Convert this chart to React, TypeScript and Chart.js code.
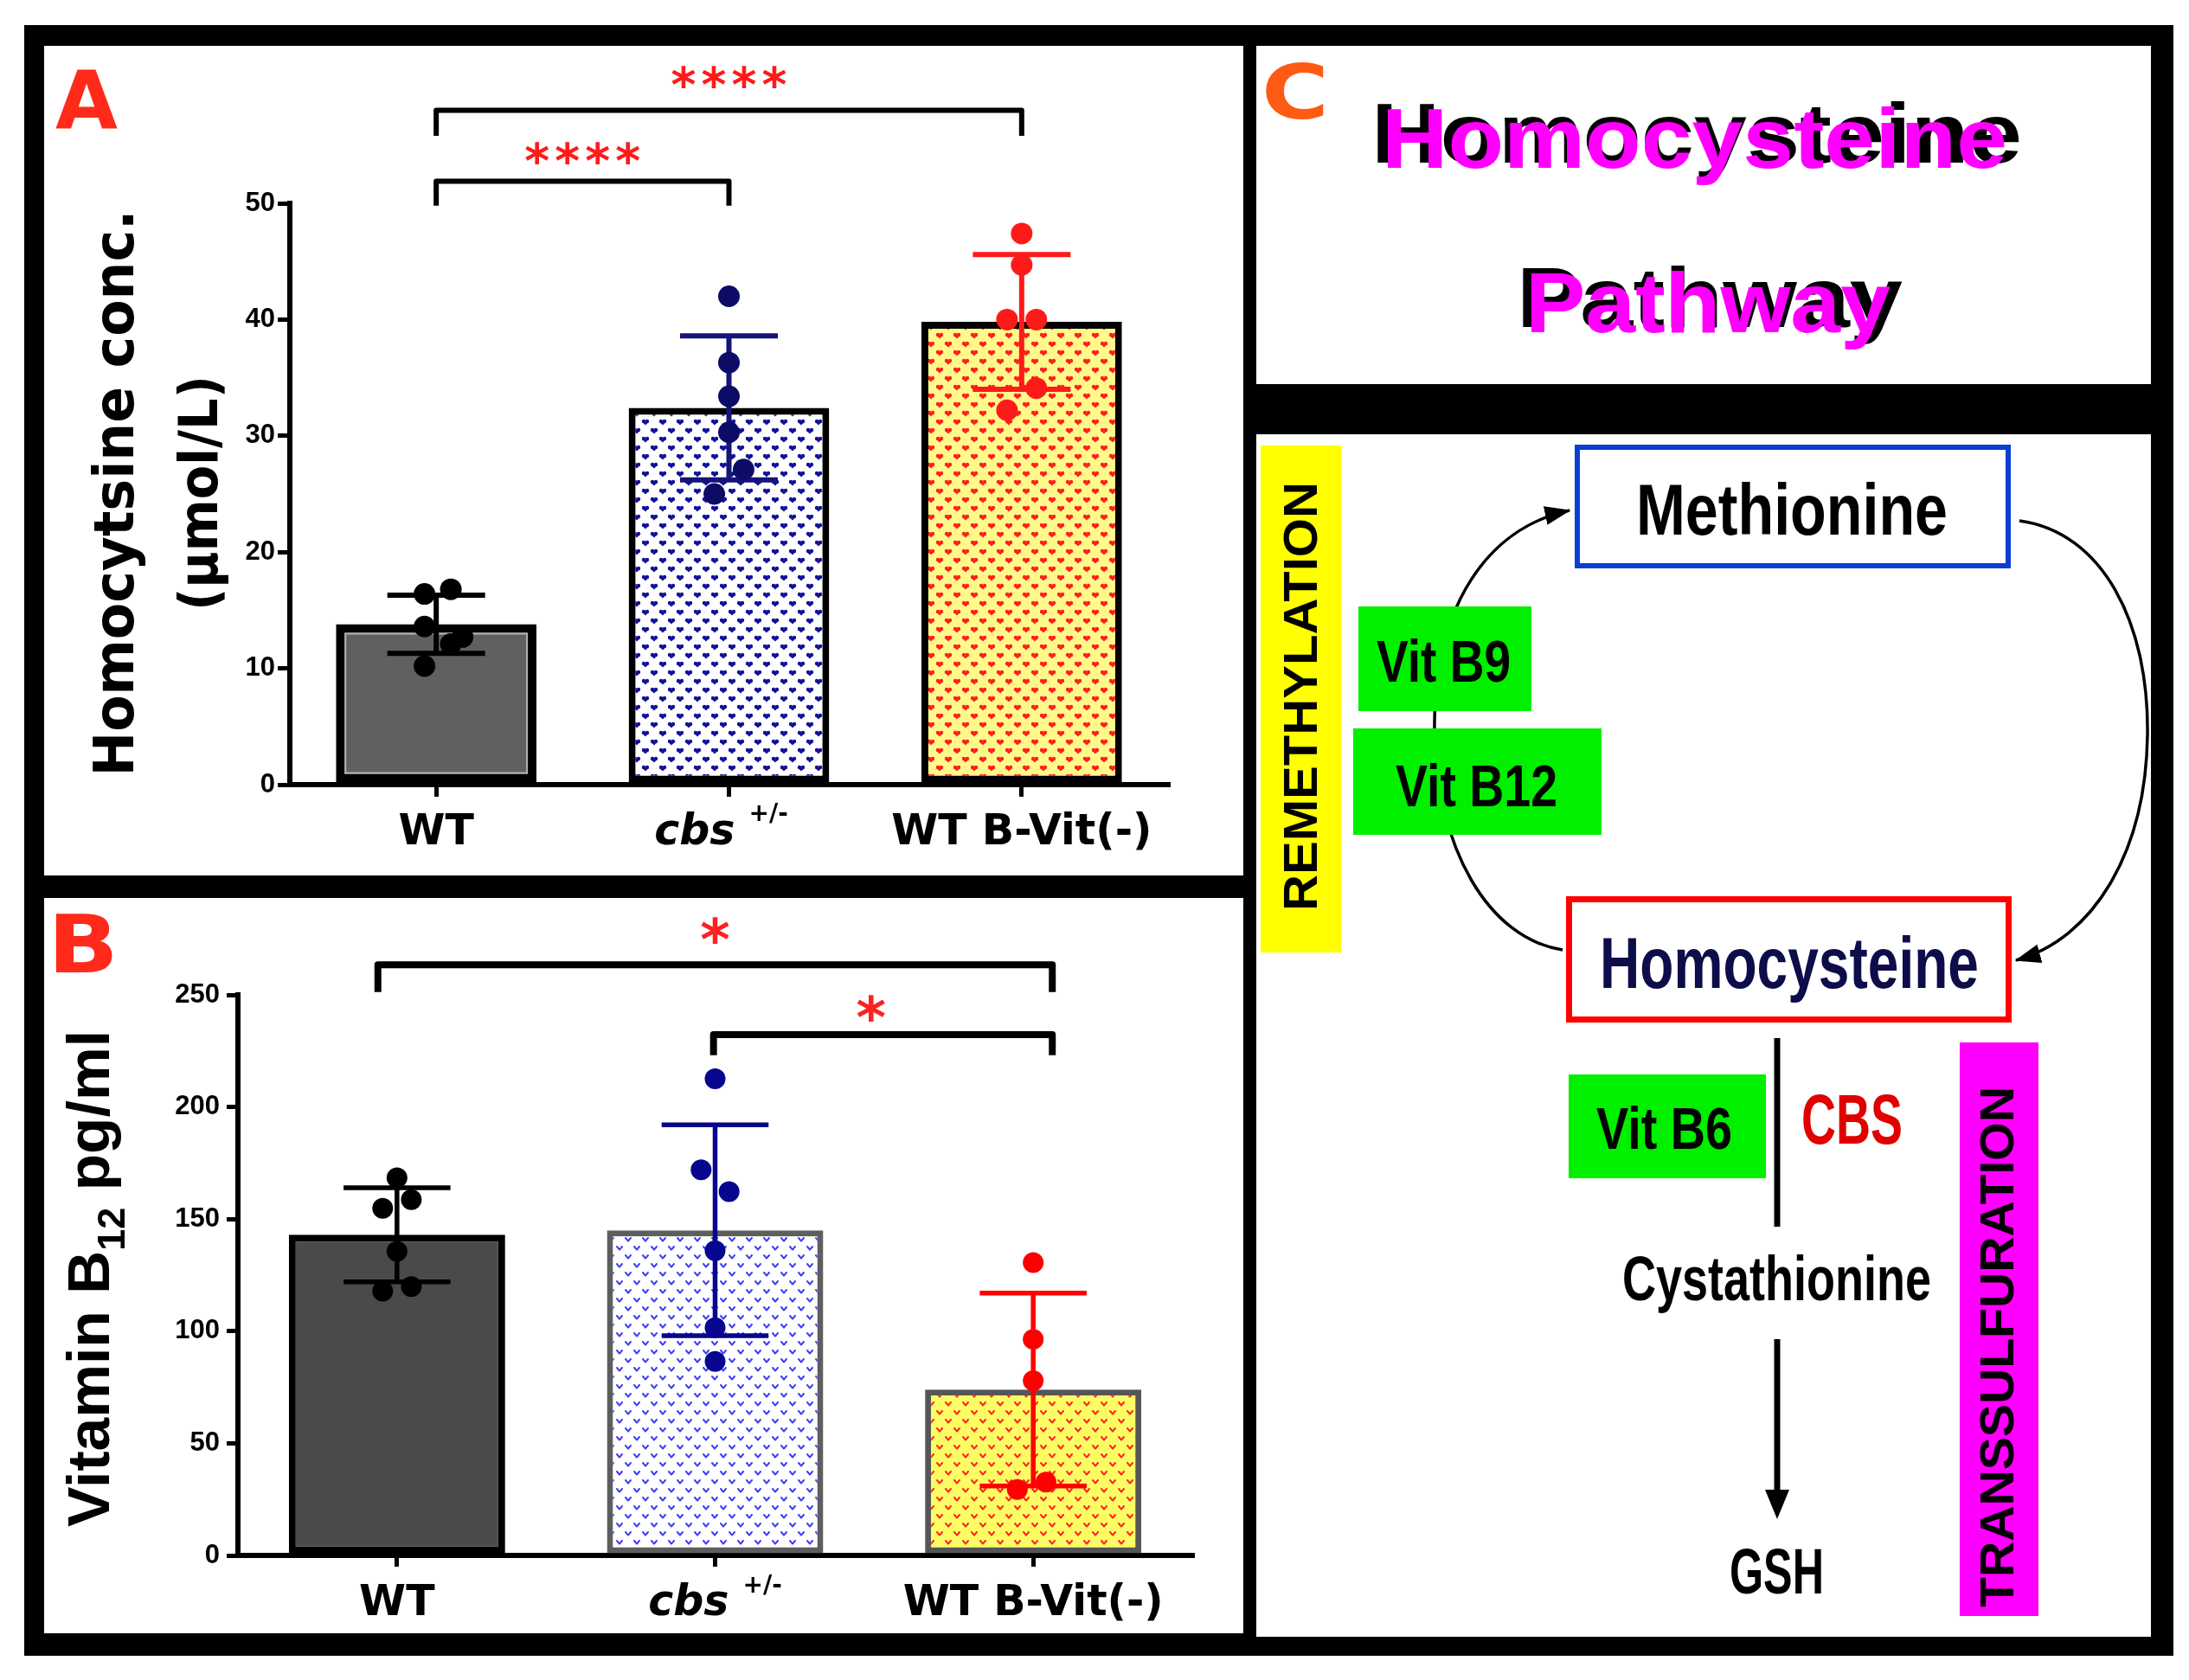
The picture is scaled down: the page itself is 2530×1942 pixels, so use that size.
import React, { useEffect, useRef } from 'react';
import { Chart, registerables } from 'chart.js';

Chart.register(...registerables);

// ---------------- shared categories ----------------
const categories = ['WT', 'cbs', 'WT B-Vit(-)'];
const categorySuperscripts = ['', '+/-', ''];
const categoryItalic = [false, true, false];

// ---------------- Panel A: homocysteine (µmol/L) ----------------
const hcyMean = [13.8, 32.4, 39.8];
const hcySD = [2.5, 6.2, 5.8];
const hcyPointsWT = [16.4, 16.8, 13.6, 12.7, 12.1, 10.2];
const hcyPointsCbs = [42.0, 36.3, 33.4, 30.3, 27.1, 25.0];
const hcyPointsBVit = [47.4, 44.7, 40.0, 40.0, 34.1, 32.2];
const hcyJitterWT = [-0.04, 0.05, -0.04, 0.09, 0.05, -0.04];
const hcyJitterCbs = [0, 0, 0, 0, 0.05, -0.05];
const hcyJitterBVit = [0, 0, -0.05, 0.05, 0.05, -0.05];
const hcyYMax = 50;
const hcyYStep = 10;
const hcySigFrom = [0, 0];
const hcySigTo = [2, 1];
const hcySigY = [58.0, 51.9];
const hcySigLeg = [55.8, 49.8];
const hcySigText = ['****', '****'];
const hcySigTextX = [1.0, 0.5];
const hcySigTextY = [60.9, 54.3];

// ---------------- Panel B: vitamin B12 (pg/ml) ----------------
const b12Mean = [143, 145, 74];
const b12SD = [21, 47, 43];
const b12PointsWT = [168.4, 158.7, 154.8, 135.6, 119.9, 117.9];
const b12PointsCbs = [212.6, 172.0, 162.2, 135.9, 101.6, 86.5];
const b12PointsBVit = [130.6, 96.4, 77.9, 32.7, 29.4];
const b12JitterWT = [0, 0.045, -0.045, 0, 0.045, -0.045];
const b12JitterCbs = [0, -0.044, 0.044, 0, 0, 0];
const b12JitterBVit = [0, 0, 0, 0.04, -0.05];
const b12YMax = 250;
const b12YStep = 50;
const b12SigFrom = [-0.06, 0.995];
const b12SigTo = [2.06, 2.06];
const b12SigY = [263.4, 232.3];
const b12SigLeg = [251.3, 223.1];
const b12SigText = ['*', '*'];
const b12SigTextX = [1.0, 1.49];
const b12SigTextY = [278.6, 244.2];

// ---------------- helpers ----------------
function heartPattern(bg: string, fg: string) {
  const c = document.createElement('canvas');
  c.width = 20;
  c.height = 20;
  const g = c.getContext('2d')!;
  g.fillStyle = bg;
  g.fillRect(0, 0, 20, 20);
  g.fillStyle = fg;
  const heart = (cx: number, cy: number) => {
    g.beginPath();
    g.arc(cx - 2, cy - 1, 2.2, 0, Math.PI * 2);
    g.fill();
    g.beginPath();
    g.arc(cx + 2, cy - 1, 2.2, 0, Math.PI * 2);
    g.fill();
    g.beginPath();
    g.moveTo(cx - 4.1, cy - 0.4);
    g.lineTo(cx + 4.1, cy - 0.4);
    g.lineTo(cx, cy + 3.6);
    g.closePath();
    g.fill();
  };
  heart(5, 5);
  heart(15, 15);
  return g.createPattern(c, 'repeat');
}

function chevronPattern(bg: string, fg: string) {
  const c = document.createElement('canvas');
  c.width = 20;
  c.height = 20;
  const g = c.getContext('2d')!;
  g.fillStyle = bg;
  g.fillRect(0, 0, 20, 20);
  g.strokeStyle = fg;
  g.lineWidth = 2;
  g.lineCap = 'round';
  g.lineJoin = 'round';
  const v = (cx: number, cy: number) => {
    g.beginPath();
    g.moveTo(cx - 3, cy - 2);
    g.lineTo(cx, cy + 1.6);
    g.lineTo(cx + 3, cy - 2);
    g.stroke();
  };
  v(5, 5);
  v(15, 15);
  return g.createPattern(c, 'repeat');
}

function drawRotatedRuns(ctx: CanvasRenderingContext2D, runs: any[], baselineX: number, centerY: number, length: number) {
  ctx.save();
  const widths = runs.map((r) => {
    ctx.font = r.font;
    return ctx.measureText(r.text).width;
  });
  const total = widths.reduce((a, b) => a + b, 0);
  ctx.translate(baselineX, centerY);
  ctx.rotate(-Math.PI / 2);
  ctx.scale(length / total, 1);
  ctx.fillStyle = '#000';
  ctx.textAlign = 'left';
  ctx.textBaseline = 'alphabetic';
  let x = -total / 2;
  runs.forEach((r, i) => {
    ctx.font = r.font;
    ctx.fillText(r.text, x, r.dy || 0);
    x += widths[i];
  });
  ctx.restore();
}

function extrasPlugin(spec: any) {
  return {
    id: 'panelExtras',
    afterDatasetDraw(chart: any, args: any) {
      if (args.meta.type !== 'bar') return;
      const ctx = chart.ctx as CanvasRenderingContext2D;
      const x = chart.scales.x;
      const y = chart.scales.y;
      const catW = x.getPixelForValue(1) - x.getPixelForValue(0);
      if (spec.innerLine) {
        const el = args.meta.data[0];
        const bw = spec.barBorderWidth[0];
        const l = el.x - el.width / 2 + bw;
        const r = el.x + el.width / 2 - bw;
        const t = el.y + bw;
        const b = el.base - bw;
        ctx.save();
        ctx.strokeStyle = spec.innerLine;
        ctx.lineWidth = 2;
        ctx.strokeRect(l + 1, t + 1, r - l - 2, b - t - 2);
        ctx.restore();
      }
      spec.means.forEach((m: number, i: number) => {
        const px = x.getPixelForValue(i);
        const top = y.getPixelForValue(m + spec.sds[i]);
        const bot = y.getPixelForValue(m - spec.sds[i]);
        const hw = catW * spec.capFrac;
        ctx.save();
        ctx.strokeStyle = spec.errColors[i];
        ctx.lineWidth = spec.errWidth;
        ctx.lineCap = 'butt';
        ctx.beginPath();
        ctx.moveTo(px, top);
        ctx.lineTo(px, bot);
        ctx.moveTo(px - hw, top);
        ctx.lineTo(px + hw, top);
        ctx.moveTo(px - hw, bot);
        ctx.lineTo(px + hw, bot);
        ctx.stroke();
        ctx.restore();
      });
    },
    afterDraw(chart: any) {
      const ctx = chart.ctx as CanvasRenderingContext2D;
      const x = chart.scales.x;
      const y = chart.scales.y;
      // significance brackets
      spec.sigFrom.forEach((from: number, i: number) => {
        const xl = x.getPixelForValue(from);
        const xr = x.getPixelForValue(spec.sigTo[i]);
        const yl = y.getPixelForValue(spec.sigY[i]);
        const yg = y.getPixelForValue(spec.sigLeg[i]);
        ctx.save();
        ctx.strokeStyle = '#000';
        ctx.lineWidth = spec.bracketWidth;
        ctx.lineJoin = 'round';
        ctx.beginPath();
        ctx.moveTo(xl, yg);
        ctx.lineTo(xl, yl);
        ctx.lineTo(xr, yl);
        ctx.lineTo(xr, yg);
        ctx.stroke();
        ctx.restore();
        // stars
        ctx.save();
        ctx.font = 'bold 100px "DejaVu Sans"';
        const m100 = ctx.measureText('*');
        const h100 = m100.actualBoundingBoxAscent + m100.actualBoundingBoxDescent;
        const size = (spec.starHeight / h100) * 100;
        ctx.font = `bold ${size}px "DejaVu Sans"`;
        const mm = ctx.measureText('*');
        const cy = y.getPixelForValue(spec.sigTextY[i]);
        const baseY = cy + (mm.actualBoundingBoxAscent - mm.actualBoundingBoxDescent) / 2;
        const cx = x.getPixelForValue(spec.sigTextX[i]);
        const txt: string = spec.sigText[i];
        const n = txt.length;
        ctx.fillStyle = spec.starColor;
        ctx.textAlign = 'center';
        ctx.textBaseline = 'alphabetic';
        for (let k = 0; k < n; k++) {
          ctx.fillText('*', cx + (k - (n - 1) / 2) * spec.starPitch, baseY);
        }
        ctx.restore();
      });
      // category labels
      const base = chart.chartArea.bottom + spec.labelOffset;
      categories.forEach((c, i) => {
        const cx = x.getPixelForValue(i);
        ctx.save();
        const mainFont = (categoryItalic[i] ? 'italic ' : '') + `bold ${spec.labelSize}px "DejaVu Sans"`;
        ctx.font = mainFont;
        const w1 = ctx.measureText(c).width;
        const sup = categorySuperscripts[i];
        let w2 = 0;
        let gap = 0;
        const supFont = `bold ${spec.supSize}px "DejaVu Sans"`;
        if (sup) {
          ctx.font = supFont;
          w2 = ctx.measureText(sup).width;
          gap = spec.supGap;
        }
        const start = cx - (w1 + gap + w2) / 2 + (sup ? spec.supShift : 0);
        ctx.fillStyle = '#000';
        ctx.textAlign = 'left';
        ctx.textBaseline = 'alphabetic';
        ctx.font = mainFont;
        ctx.fillText(c, start, base);
        if (sup) {
          ctx.font = supFont;
          ctx.fillText(sup, start + w1 + gap, base - spec.supRise);
        }
        ctx.restore();
      });
      // y titles
      spec.titles.forEach((t: any) => drawRotatedRuns(ctx, t.runs, t.baselineX, t.centerY, t.length));
    },
  };
}

function buildChart(canvas: HTMLCanvasElement, spec: any) {
  const datasets: any[] = [
    {
      type: 'bar',
      data: spec.means.map((m: number, i: number) => ({ x: i, y: m })),
      backgroundColor: spec.barFill,
      borderColor: spec.barBorder,
      borderWidth: spec.barBorderWidth,
      borderSkipped: false,
      barPercentage: spec.barPct,
      categoryPercentage: 1,
      grouped: false,
      order: 2,
    },
  ];
  spec.points.forEach((vals: number[], i: number) => {
    datasets.push({
      type: 'scatter',
      data: vals.map((v, k) => ({ x: i + spec.jitter[i][k], y: v })),
      pointRadius: spec.pointRadius,
      pointHoverRadius: spec.pointRadius,
      pointBackgroundColor: spec.pointColors[i],
      pointBorderColor: spec.pointColors[i],
      pointBorderWidth: 0,
      showLine: false,
      order: 1,
    });
  });
  const tickFont = { family: 'Liberation Sans', size: spec.tickSize, weight: 'bold' };
  const gridCommon = {
    display: true,
    drawOnChartArea: false,
    drawTicks: true,
    tickLength: spec.tickLength,
    tickWidth: spec.tickWidth,
    tickColor: '#000',
    color: '#000',
    lineWidth: spec.tickWidth,
    offset: false,
  };
  const border = { display: true, color: '#000', width: spec.axisWidth };
  return new Chart(canvas, {
    type: 'bar',
    data: { datasets },
    options: {
      responsive: false,
      animation: false,
      devicePixelRatio: 1,
      events: [],
      layout: { padding: { left: 0, top: spec.padTop, right: spec.padRight, bottom: 0 } },
      plugins: { legend: { display: false }, tooltip: { enabled: false } },
      scales: {
        x: {
          type: 'linear',
          min: -0.5,
          max: 2.5,
          offset: false,
          grid: gridCommon,
          border,
          ticks: { display: false },
          afterBuildTicks: (s: any) => {
            s.ticks = categories.map((_, i) => ({ value: i }));
          },
          afterFit: (s: any) => {
            s.height = spec.xAxisHeight;
          },
        },
        y: {
          type: 'linear',
          min: 0,
          max: spec.yMax,
          ticks: { stepSize: spec.yStep, color: '#000', font: tickFont, padding: spec.tickPadding },
          grid: gridCommon,
          border,
          afterFit: (s: any) => {
            s.width = spec.yAxisWidth;
          },
        },
      },
    } as any,
    plugins: [extrasPlugin(spec)],
  } as any);
}

const C_FONT = "'Liberation Sans', Arial, sans-serif";

export default function App() {
  const aRef = useRef<HTMLCanvasElement | null>(null);
  const bRef = useRef<HTMLCanvasElement | null>(null);

  useEffect(() => {
    document.body.style.margin = '0';
    const specA = {
      means: hcyMean,
      sds: hcySD,
      points: [hcyPointsWT, hcyPointsCbs, hcyPointsBVit],
      jitter: [hcyJitterWT, hcyJitterCbs, hcyJitterBVit],
      yMax: hcyYMax,
      yStep: hcyYStep,
      sigFrom: hcySigFrom,
      sigTo: hcySigTo,
      sigY: hcySigY,
      sigLeg: hcySigLeg,
      sigText: hcySigText,
      sigTextX: hcySigTextX,
      sigTextY: hcySigTextY,
      barFill: ['#606060', heartPattern('#ffffff', '#10109a'), heartPattern('#fff98c', '#ff1e1e')],
      barBorder: ['#000000', '#000000', '#000000'],
      barBorderWidth: [10, 8, 8],
      barPct: 0.685,
      innerLine: '#b0b0b0',
      pointColors: ['#000000', '#0c0c66', '#ff1a1a'],
      errColors: ['#000000', '#14147a', '#ff1a1a'],
      pointRadius: 12.5,
      errWidth: 6,
      capFrac: 0.167,
      bracketWidth: 6,
      starHeight: 26,
      starPitch: 35,
      starColor: '#ff1a1a',
      labelOffset: 69,
      labelSize: 49,
      supSize: 28,
      supRise: 27,
      supGap: 16,
      supShift: -9,
      tickSize: 31,
      tickLength: 14,
      tickWidth: 5,
      tickPadding: 3,
      axisWidth: 6,
      padTop: 182,
      padRight: 87,
      yAxisWidth: 284,
      xAxisHeight: 105,
      titles: [
        { runs: [{ text: 'Homocytsine conc.', font: 'bold 64px "DejaVu Sans"' }], baselineX: 103, centerY: 517, length: 655 },
        { runs: [{ text: '(μmol/L)', font: 'bold 62px "DejaVu Sans"' }], baselineX: 200, centerY: 517, length: 272 },
      ],
    };
    const specB = {
      means: b12Mean,
      sds: b12SD,
      points: [b12PointsWT, b12PointsCbs, b12PointsBVit],
      jitter: [b12JitterWT, b12JitterCbs, b12JitterBVit],
      yMax: b12YMax,
      yStep: b12YStep,
      sigFrom: b12SigFrom,
      sigTo: b12SigTo,
      sigY: b12SigY,
      sigLeg: b12SigLeg,
      sigText: b12SigText,
      sigTextX: b12SigTextX,
      sigTextY: b12SigTextY,
      barFill: ['#4a4a4a', chevronPattern('#ffffff', '#3c3cf5'), chevronPattern('#fcfc64', '#ff2020')],
      barBorder: ['#000000', '#5e5e5e', '#555555'],
      barBorderWidth: [8, 7, 7],
      barPct: 0.68,
      innerLine: null,
      pointColors: ['#000000', '#06068f', '#ff0000'],
      errColors: ['#000000', '#06068f', '#ff0000'],
      pointRadius: 12,
      errWidth: 5.5,
      capFrac: 0.168,
      bracketWidth: 8,
      starHeight: 31,
      starPitch: 35,
      starColor: '#ff2020',
      labelOffset: 69,
      labelSize: 49,
      supSize: 28,
      supRise: 26,
      supGap: 16,
      supShift: 0,
      tickSize: 31,
      tickLength: 13,
      tickWidth: 5,
      tickPadding: 8,
      axisWidth: 6,
      padTop: 112,
      padRight: 59,
      yAxisWidth: 224,
      xAxisHeight: 90,
      titles: [
        {
          runs: [
            { text: 'Vitamin B', font: 'bold 68px "Liberation Sans"' },
            { text: '12', font: 'bold 44px "Liberation Sans"', dy: 18 },
            { text: ' pg/ml', font: 'bold 68px "Liberation Sans"' },
          ],
          baselineX: 75,
          centerY: 440,
          length: 574,
        },
      ],
    };
    const ca = buildChart(aRef.current!, specA);
    const cb = buildChart(bRef.current!, specB);
    return () => {
      ca.destroy();
      cb.destroy();
    };
  }, []);

  const T = (props: any) => (
    <text fontFamily={C_FONT} fontWeight="bold" lengthAdjust="spacingAndGlyphs" {...props} />
  );

  return (
    <div style={{ position: 'absolute', left: 0, top: 0, width: 2530, height: 1942, background: '#fff', overflow: 'hidden' }}>
      <svg width={2530} height={1942} style={{ position: 'absolute', left: 0, top: 0 }}>
        <defs>
          <marker id="ah" viewBox="0 0 10 10" refX="9.5" refY="5" markerUnits="userSpaceOnUse" markerWidth="30" markerHeight="22" orient="auto" preserveAspectRatio="none">
            <path d="M0,0 L10,5 L0,10 z" fill="#000" />
          </marker>
        </defs>
        {/* frame & panels */}
        <rect x={28} y={29} width={2484} height={1885} fill="#000" />
        <rect x={51} y={53} width={1386} height={959} fill="#fff" />
        <rect x={51} y={1038} width={1386} height={850} fill="#fff" />
        <rect x={1452} y={53} width={1034} height={391} fill="#fff" />
        <rect x={1452} y={502} width={1034} height={1390} fill="#fff" />

        {/* panel letters */}
        <text x={64} y={148} fontFamily="'DejaVu Sans'" fontWeight="bold" fontSize={93} fill="#ff2a1a">A</text>
        <text x={55} y={1124} fontFamily="'DejaVu Sans'" fontWeight="bold" fontSize={92} fill="#ff2a1a" textLength={82} lengthAdjust="spacingAndGlyphs">B</text>
        <text x={1458} y={137} fontFamily="'DejaVu Sans'" fontWeight="bold" fontSize={88} fill="#ff5a14" textLength={78} lengthAdjust="spacingAndGlyphs">C</text>

        {/* title */}
        <T x={1585} y={188} fontSize={98} textLength={752} fill="#000">Homocysteine</T>
        <T x={1597} y={194} fontSize={98} textLength={723} fill="#ff00ff">Homocysteine</T>
        <T x={1753} y={378} fontSize={98} textLength={446} fill="#000">Pathway</T>
        <T x={1763} y={384} fontSize={98} textLength={422} fill="#ff00ff">Pathway</T>

        {/* side bars */}
        <rect x={1457} y={515} width={93} height={586} fill="#ffff00" />
        <T transform="translate(1522,805) rotate(-90)" textAnchor="middle" fontSize={56} textLength={496} fill="#000">REMETHYLATION</T>
        <rect x={2265} y={1205} width={91} height={663} fill="#ff00ff" />
        <T transform="translate(2327,1557) rotate(-90)" textAnchor="middle" fontSize={56} textLength={602} fill="#000">TRANSSULFURATION</T>

        {/* cycle arcs */}
        <path d="M 1806 1098 C 1720 1085, 1660 980, 1658 845 C 1656 700, 1720 610, 1814 590" fill="none" stroke="#000" strokeWidth={3.5} markerEnd="url(#ah)" />
        <path d="M 2334 602 C 2430 615, 2484 720, 2482 850 C 2480 985, 2420 1085, 2330 1110" fill="none" stroke="#000" strokeWidth={3.5} markerEnd="url(#ah)" />

        {/* metabolite boxes */}
        <rect x={1823} y={517} width={498} height={137} fill="#fff" stroke="#0b3fd3" strokeWidth={6} />
        <T x={1891} y={618} fontSize={84} textLength={360} fill="#000">Methionine</T>
        <rect x={1813.5} y={1039.5} width={508} height={139} fill="#fff" stroke="#ff0000" strokeWidth={7} />
        <T x={1849} y={1142} fontSize={84} textLength={438} fill="#0d0d4a">Homocysteine</T>

        {/* vitamins */}
        <rect x={1570} y={701} width={200} height={121} fill="#00f000" />
        <T x={1591} y={788} fontSize={68} textLength={155} fill="#000">Vit B9</T>
        <rect x={1564} y={842} width={287} height={123} fill="#00f000" />
        <T x={1613} y={932} fontSize={68} textLength={187} fill="#000">Vit B12</T>
        <rect x={1813} y={1242} width={228} height={120} fill="#00f000" />
        <T x={1845} y={1328} fontSize={68} textLength={157} fill="#000">Vit B6</T>

        {/* transsulfuration path */}
        <line x1={2054} y1={1200} x2={2054} y2={1418} stroke="#000" strokeWidth={7} />
        <T x={2082} y={1322} fontSize={82} textLength={117} fill="#e00000">CBS</T>
        <T x={1875} y={1503} fontSize={73} textLength={357} fill="#000">Cystathionine</T>
        <line x1={2054} y1={1548} x2={2054} y2={1726} stroke="#000" strokeWidth={7} />
        <polygon points="2040,1722 2068,1722 2054,1756" fill="#000" />
        <T x={1999} y={1842} fontSize={75} textLength={109} fill="#000">GSH</T>
      </svg>
      <canvas ref={aRef} width={1386} height={959} style={{ position: 'absolute', left: 51, top: 53, width: 1386, height: 959 }} />
      <canvas ref={bRef} width={1386} height={850} style={{ position: 'absolute', left: 51, top: 1038, width: 1386, height: 850 }} />
    </div>
  );
}
